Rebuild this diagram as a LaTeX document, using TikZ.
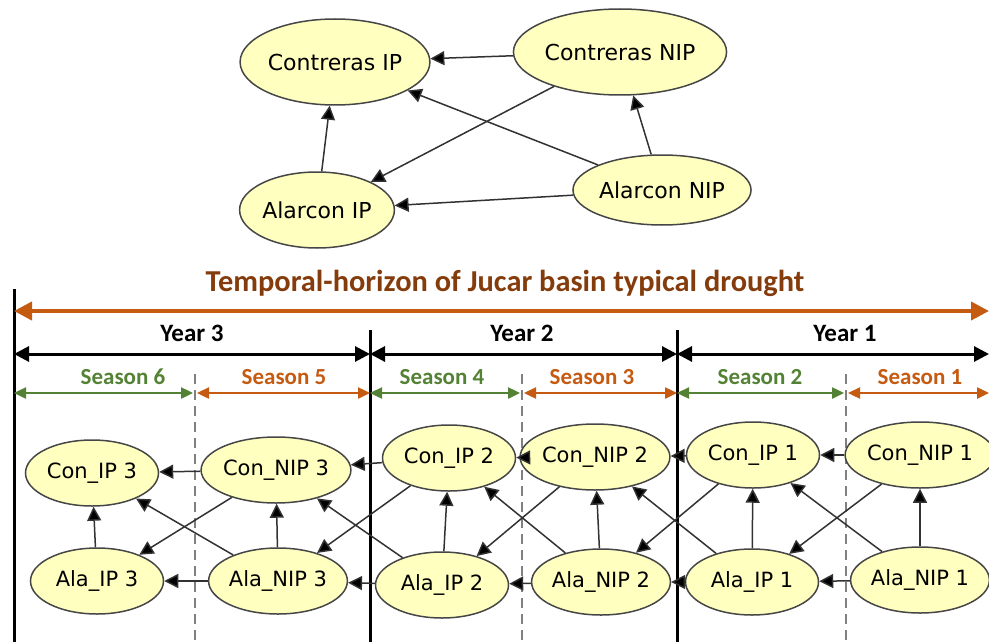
\documentclass[tikz,border=0pt]{standalone}
\usepackage{fontspec}
\setmainfont{DejaVu Sans}
\newfontfamily\calib{Carlito}
\usetikzlibrary{arrows.meta,shapes.geometric}
\definecolor{nodefill}{RGB}{255,255,192}
\definecolor{nodeline}{RGB}{70,70,70}
\definecolor{edgegray}{RGB}{50,50,50}
\definecolor{tbrown}{RGB}{132,60,12}
\definecolor{torange}{RGB}{197,90,17}
\definecolor{tgreen}{RGB}{84,130,53}
\definecolor{dgray}{RGB}{128,128,128}
\begin{document}
\begin{tikzpicture}[x=0.5pt,y=-0.5pt,
  ell/.style={ellipse, draw=nodeline, line width=0.75pt, fill=nodefill, inner sep=0pt,
    font=\fontsize{10.5}{12}\selectfont, minimum width=66.5pt, minimum height=33pt},
  bigell/.style={ell, font=\fontsize{11}{13}\selectfont},
  edge/.style={draw=edgegray, line width=0.75pt, -{Triangle[length=7pt,width=7pt,fill=black]}},
  horiz/.style={line width=2pt, draw=torange, {Triangle[length=9pt,width=9pt]}-{Triangle[length=9pt,width=9pt]}},
  yeararr/.style={line width=1.5pt, draw=black, {Triangle[length=7.5pt,width=7.5pt]}-{Triangle[length=7.5pt,width=7.5pt]}},
  seasarr/.style={line width=1.2pt, {Triangle[length=6pt,width=5.5pt]}-{Triangle[length=6pt,width=5.5pt]}},
  yearsep/.style={line width=1.5pt, draw=black},
  seassep/.style={line width=1pt, draw=dgray, dash pattern=on 5pt off 3pt},
  titlelbl/.style={font=\calib\bfseries\fontsize{15.2}{17}\selectfont, text=tbrown, inner sep=0pt},
  yearlbl/.style={font=\calib\bfseries\fontsize{12.5}{14}\selectfont, text=black, inner sep=0pt},
  seaslbl/.style={font=\calib\bfseries\fontsize{11.5}{13}\selectfont, inner sep=0pt}
]
\useasboundingbox (0,0) rectangle (989,642);

% separators
\draw[yearsep] (14,289) -- (14,642);
\draw[yearsep] (370,330) -- (370,642);
\draw[yearsep] (677,330) -- (677,642);
\draw[seassep] (195,374) -- (195,642);
\draw[seassep] (522,374) -- (522,642);
\draw[seassep] (846,374) -- (846,642);

% time axis
\node[titlelbl] (title) at (505,283) {Temporal-horizon of Jucar basin typical drought};
\draw[horiz] (14,311) -- (989,311);
\node[yearlbl] (y3) at (192,333) {Year 3};
\node[yearlbl] (y2) at (522,333) {Year 2};
\node[yearlbl] (y1) at (845,333) {Year 1};
\draw[yeararr] (14,354) -- (370,354);
\draw[yeararr] (370,354) -- (677,354);
\draw[yeararr] (677,354) -- (989,354);
\node[seaslbl, text=tgreen] (s6) at (123,377) {Season 6};
\node[seaslbl, text=torange] (s5) at (284,377) {Season 5};
\node[seaslbl, text=tgreen] (s4) at (442,377) {Season 4};
\node[seaslbl, text=torange] (s3) at (592,377) {Season 3};
\node[seaslbl, text=tgreen] (s2) at (760,377) {Season 2};
\node[seaslbl, text=torange] (s1) at (920,377) {Season 1};
\draw[seasarr, draw=tgreen] (14,393) -- (193,393);
\draw[seasarr, draw=torange] (197,393) -- (370,393);
\draw[seasarr, draw=tgreen] (370,393) -- (520,393);
\draw[seasarr, draw=torange] (524,393) -- (677,393);
\draw[seasarr, draw=tgreen] (677,393) -- (844,393);
\draw[seasarr, draw=torange] (848,393) -- (989,393);

% top graph
\node[bigell, minimum width=78pt, minimum height=43pt] (cip) at (335,62) {Contreras IP};
\node[bigell, minimum width=92pt, minimum height=43pt] (cnip) at (620,52) {Contreras NIP};
\node[bigell, minimum width=70pt, minimum height=38pt] (aip) at (317,210) {Alarcon IP};
\node[bigell, minimum width=70.5pt, minimum height=35pt] (anip) at (662,190) {Alarcon NIP};
\draw[edge] (cnip) -- (cip);
\draw[edge] (anip) -- (cip);
\draw[edge] (cnip) -- (aip);
\draw[edge] (anip) -- (cnip);
\draw[edge] (aip) -- (cip);
\draw[edge] (anip) -- (aip);

% bottom graph
\node[ell] (c3ip) at (92,473) {Con\_IP 3};
\node[ell] (c3nip) at (276,470) {Con\_NIP 3};
\node[ell] (a3ip) at (97,581) {Ala\_IP 3};
\node[ell] (a3nip) at (278,581) {Ala\_NIP 3};
\node[ell] (c2ip) at (449,458) {Con\_IP 2};
\node[ell] (c2nip) at (595,457) {Con\_NIP 2};
\node[ell] (a2ip) at (442,585) {Ala\_IP 2};
\node[ell] (a2nip) at (601,582) {Ala\_NIP 2};
\node[ell] (c1ip) at (753,455) {Con\_IP 1};
\node[ell] (c1nip) at (920,455) {Con\_NIP 1};
\node[ell] (a1ip) at (752,582) {Ala\_IP 1};
\node[ell] (a1nip) at (920,580) {Ala\_NIP 1};

\foreach \k in {1,2,3}{
  \draw[edge] (c\k nip) -- (c\k ip);
  \draw[edge] (a\k nip) -- (a\k ip);
  \draw[edge] (a\k ip) -- (c\k ip);
  \draw[edge] (a\k nip) -- (c\k nip);
  \draw[edge] (a\k nip) -- (c\k ip);
  \draw[edge] (c\k nip) -- (a\k ip);
}
\draw[edge] (c1ip) -- (c2nip);
\draw[edge] (a1ip) -- (a2nip);
\draw[edge] (c1ip) -- (a2nip);
\draw[edge] (a1ip) -- (c2nip);
\draw[edge] (c2ip) -- (c3nip);
\draw[edge] (a2ip) -- (a3nip);
\draw[edge] (c2ip) -- (a3nip);
\draw[edge] (a2ip) -- (c3nip);
\end{tikzpicture}
\end{document}
